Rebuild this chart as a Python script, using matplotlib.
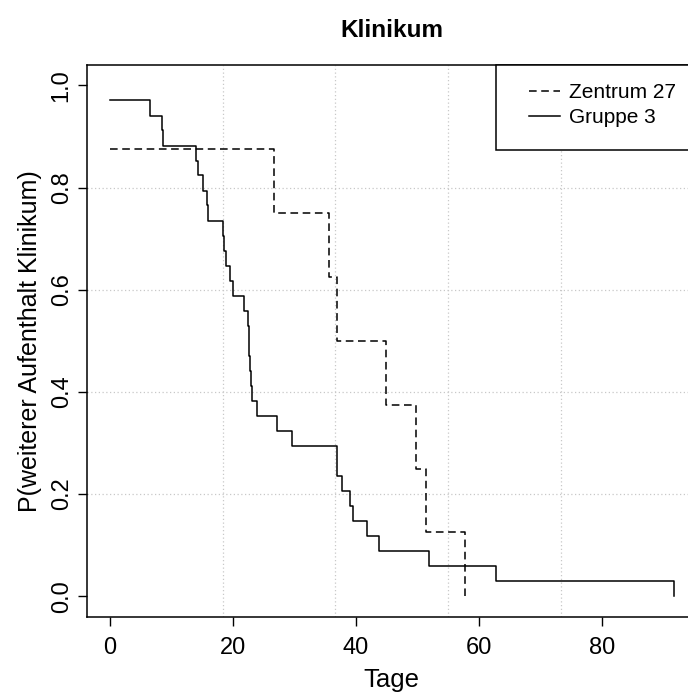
import numpy as np
import matplotlib
matplotlib.use('Agg')
import matplotlib.pyplot as plt
from matplotlib.patches import Rectangle

plt.rcParams['font.family'] = ['Liberation Sans', 'DejaVu Sans']

# Zentrum 27 (gestrichelt)
zentrum_tage = [0, 26.7, 35.7, 36.9, 44.9, 49.8, 51.5, 57.7]
zentrum_p = [0.875, 0.75, 0.625, 0.5, 0.375, 0.25, 0.125, 0.0]

# Gruppe 3 (durchgezogen)
gruppe_tage = [0, 6.5, 8.5, 8.7, 14.0, 14.3, 15.2, 15.8, 15.9, 18.4, 18.55,
               18.9, 19.5, 20.0, 21.8, 22.5, 22.6, 22.7, 22.85, 23.0, 23.1,
               24.0, 27.25, 29.7, 37.0, 37.8, 39.1, 39.5, 41.75, 43.8, 51.85,
               62.85, 91.7]
gruppe_p = [0.971, 0.941, 0.912, 0.882, 0.853, 0.824, 0.794, 0.765, 0.735,
            0.706, 0.676, 0.647, 0.618, 0.588, 0.559, 0.529, 0.500, 0.471,
            0.441, 0.412, 0.382, 0.353, 0.324, 0.294, 0.235, 0.206, 0.176,
            0.147, 0.118, 0.088, 0.059, 0.029, 0.0]

x_ticks = [0, 20, 40, 60, 80]
y_ticks = [0.0, 0.2, 0.4, 0.6, 0.8, 1.0]
labels = ['Zentrum 27', 'Gruppe 3']

fig = plt.figure(figsize=(6.88, 6.95), dpi=100)
ax = fig.add_axes([0.1269, 0.1127, 0.885, 0.7938])

xmax = max(gruppe_tage)
ax.set_xlim(-0.04 * xmax, 1.04 * xmax)
ax.set_ylim(-0.04, 1.04)

# Gitter wie grid(nx=5) in R
for gx in np.linspace(0, xmax, 6)[1:5]:
    ax.axvline(gx, color='#c8c8c8', linestyle=(0, (1, 2)), linewidth=0.9, zorder=0)
for gy in y_ticks[1:-1]:
    ax.axhline(gy, color='#c8c8c8', linestyle=(0, (1, 2)), linewidth=0.9, zorder=0)

l1, = ax.step(zentrum_tage, zentrum_p, where='post', color='black',
              linewidth=1.1, linestyle=(0, (5, 3)))
l2, = ax.step(gruppe_tage, gruppe_p, where='post', color='black', linewidth=1.1)

ax.set_xticks(x_ticks)
ax.set_yticks(y_ticks)
ax.set_yticklabels(['%.1f' % v for v in y_ticks])
ax.tick_params(direction='out', length=6.5, width=1, labelsize=17, pad=8)
ax.tick_params(axis='y', labelrotation=90, pad=4)
for lab in ax.get_yticklabels():
    lab.set_va('center')
for s in ax.spines.values():
    s.set_linewidth(1.1)

ax.set_xlabel('Tage', fontsize=18.5)
ax.set_ylabel('P(weiterer Aufenthalt Klinikum)', fontsize=18)
ax.xaxis.set_label_coords(0.5, -0.093)
ax.yaxis.set_label_coords(-0.075, 0.5)
ax.set_title('Klinikum', fontsize=17.5, fontweight='bold', pad=20)

# Legendenrahmen oben rechts
ax.add_patch(Rectangle((0.6706, 0.846), 0.4, 0.154, transform=ax.transAxes,
                       facecolor='white', edgecolor='black', linewidth=1.1,
                       clip_on=False, zorder=3))
ax.legend([l1, l2], labels, loc='center left', bbox_to_anchor=(0.7258, 0.9275),
          frameon=False, borderpad=0, borderaxespad=0, fontsize=15,
          handlelength=1.5, handletextpad=0.4, labelspacing=0.3)

fig.savefig('out.png', dpi=100)
